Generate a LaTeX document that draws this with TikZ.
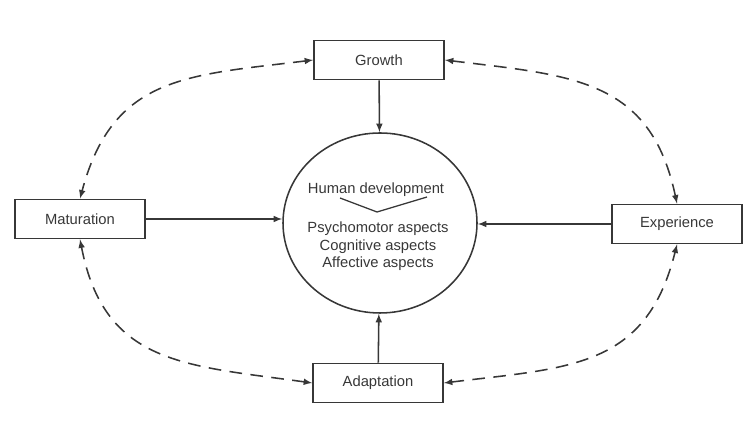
\documentclass[tikz,border=0pt]{standalone}
\usepackage{fontspec}
\setsansfont{Liberation Sans}
\usetikzlibrary{shapes.geometric, arrows}

\definecolor{ink}{RGB}{55,55,55}

\tikzset{
    factor/.style={draw=ink, line width=1.1pt, minimum width=3.25cm, minimum height=0.98cm, text=ink},
    link/.style={draw=ink, line width=1.1pt, ->, >=latex},
    loop/.style={draw=ink, line width=1.1pt, dashed, dash pattern=on 9pt off 6pt, <->, >=latex, looseness=1.2}
}

\begin{document}
\begin{tikzpicture}[font=\sffamily\fontsize{10.5}{12.5}\selectfont]
    \useasboundingbox (0,0) rectangle (18.775,10.925);

    % the four factors
    \node[factor] (growth) at (9.475,9.425) {Growth};
    \node[factor] (maturation) at (2.0,5.45) {Maturation};
    \node[factor] (experience) at (16.925,5.325) {Experience};
    \node[factor] (adaptation) at (9.45,1.35) {Adaptation};

    % centre
    \node[draw=ink, line width=1.1pt, ellipse, minimum width=4.85cm, minimum height=4.5cm] (dev) at (9.5,5.35) {};
    \node[text=ink] (human) at (9.4,6.175) {Human development};
    \node[text=ink, align=center, anchor=north] (aspects) at (9.45,5.5) {Psychomotor aspects\\Cognitive aspects\\Affective aspects};
    \draw[ink, line width=0.9pt] (8.5,5.975) -- (9.425,5.625) -- (10.675,6.0);

    \draw[link] (growth) -- (dev);
    \draw[link] (maturation.east) -- (dev.west |- maturation.east);
    \draw[link] (experience.west) -- (dev.east |- experience.west);
    \draw[link] (adaptation) -- (dev);

    % dashed ring
    \draw[loop] (growth.west) to[out=187, in=75] (maturation.north);
    \draw[loop] (maturation.south) to[out=281, in=172] (adaptation.west);
    \draw[loop] (adaptation.east) to[out=7, in=256] (experience.south);
    \draw[loop] (experience.north) to[out=102, in=-7] (growth.east);
\end{tikzpicture}
\end{document}
